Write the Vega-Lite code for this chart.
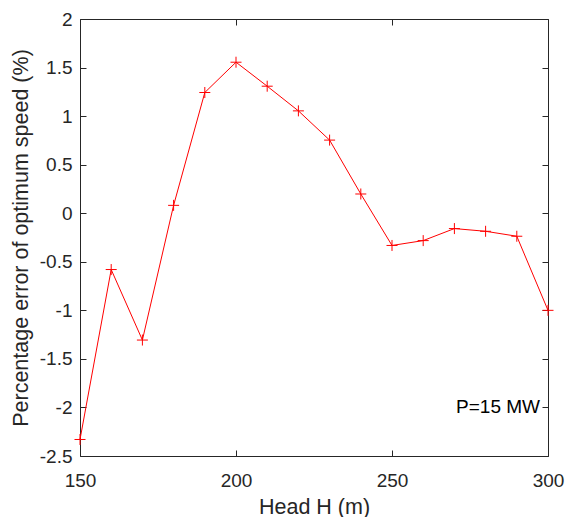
{
  "$schema": "https://vega.github.io/schema/vega-lite/v6.json",
  "autosize": {"type": "none"},
  "padding": {"left": 80, "top": 19, "right": 17, "bottom": 61},
  "width": 468,
  "height": 437,
  "background": "white",
  "config": {
    "view": {"stroke": null},
    "font": "Liberation Sans",
    "axis": {
      "grid": false,
      "domainColor": "#262626",
      "domainWidth": 1,
      "tickColor": "#262626",
      "tickWidth": 1,
      "tickSize": -6,
      "labelColor": "#262626",
      "titleColor": "#262626",
      "labelFont": "Liberation Sans",
      "titleFont": "Liberation Sans",
      "labelFontSize": 19,
      "titleFontSize": 21.5,
      "titleFontWeight": "normal",
      "labelFlush": false,
      "labelOverlap": false
    }
  },
  "data": {
    "values": [
      {"H": 150, "err": -2.33},
      {"H": 160, "err": -0.58},
      {"H": 170, "err": -1.306},
      {"H": 180, "err": 0.081},
      {"H": 190, "err": 1.243},
      {"H": 200, "err": 1.555},
      {"H": 210, "err": 1.308},
      {"H": 220, "err": 1.054},
      {"H": 230, "err": 0.753},
      {"H": 240, "err": 0.198},
      {"H": 250, "err": -0.332},
      {"H": 260, "err": -0.282},
      {"H": 270, "err": -0.158},
      {"H": 280, "err": -0.186},
      {"H": 290, "err": -0.237},
      {"H": 300, "err": -1.0}
    ]
  },
  "layer": [
    {
      "mark": {"type": "line", "color": "#ff0000", "strokeWidth": 1},
      "encoding": {
        "x": {"field": "H", "type": "quantitative", "scale": {"domain": [150, 300], "nice": false, "zero": false},
          "axis": {"orient": "bottom", "title": "Head H (m)", "values": [150, 200, 250, 300], "labelPadding": 21, "labelExpr": "toString(datum.value)", "titleY": 57, "titleBaseline": "alphabetic"}},
        "y": {"field": "err", "type": "quantitative", "scale": {"domain": [-2.5, 2], "nice": false, "zero": false},
          "axis": {"orient": "left", "title": "Percentage error of optimum speed (%)", "values": [-2.5, -2, -1.5, -1, -0.5, 0, 0.5, 1, 1.5, 2], "labelPadding": 14, "labelExpr": "toString(datum.value)", "titleX": -53, "titleBaseline": "alphabetic"}}
      }
    },
    {
      "mark": {"type": "point", "shape": "M-1,0L1,0M0,-1L0,1", "size": 121, "filled": false, "stroke": "#ff0000", "strokeWidth": 1, "opacity": 1},
      "encoding": {
        "x": {"field": "H", "type": "quantitative", "axis": {"orient": "top", "title": null, "labels": false, "values": [150, 200, 250, 300]}},
        "y": {"field": "err", "type": "quantitative", "axis": {"orient": "right", "title": null, "labels": false, "values": [-2.5, -2, -1.5, -1, -0.5, 0, 0.5, 1, 1.5, 2]}}
      }
    },
    {
      "data": {"values": [{"H": 300, "err": -2, "label": "P=15 MW"}]},
      "mark": {"type": "text", "align": "right", "baseline": "middle", "dx": -8, "fontSize": 19, "color": "#000000", "font": "Liberation Sans"},
      "encoding": {
        "x": {"field": "H", "type": "quantitative", "axis": null},
        "y": {"field": "err", "type": "quantitative", "axis": null},
        "text": {"field": "label"}
      }
    }
  ],
  "resolve": {"axis": {"x": "independent", "y": "independent"}}
}
